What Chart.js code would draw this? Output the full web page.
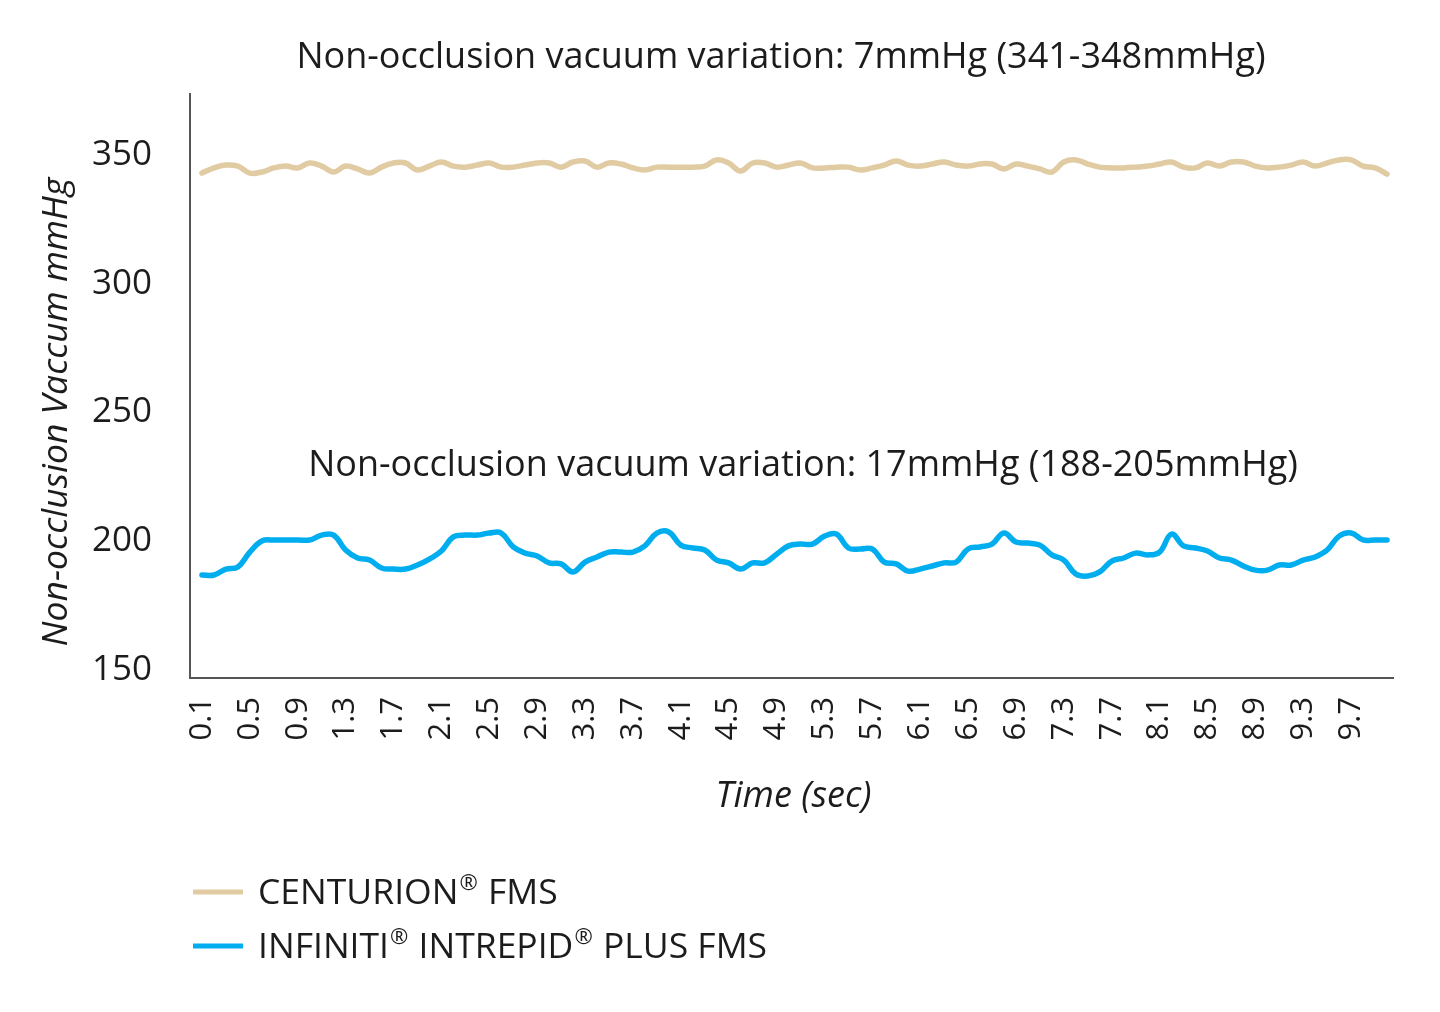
<!DOCTYPE html>
<html>
<head>
<meta charset="utf-8">
<script src="https://cdn.jsdelivr.net/npm/chart.js@4.4.1/dist/chart.umd.min.js"></script>
<style>
html,body{margin:0;padding:0;background:#ffffff;}
#wrap{width:1440px;height:1012px;position:relative;}
canvas{display:block;}
</style>
</head>
<body>
<div id="wrap"><canvas id="c" width="1440" height="1012"></canvas></div>
<script>
// ---- data ----
const timeSec = [0.1,0.2,0.3,0.4,0.5,0.6,0.7,0.8,0.9,1.0,
  1.1,1.2,1.3,1.4,1.5,1.6,1.7,1.8,1.9,2.0,
  2.1,2.2,2.3,2.4,2.5,2.6,2.7,2.8,2.9,3.0,
  3.1,3.2,3.3,3.4,3.5,3.6,3.7,3.8,3.9,4.0,
  4.1,4.2,4.3,4.4,4.5,4.6,4.7,4.8,4.9,5.0,
  5.1,5.2,5.3,5.4,5.5,5.6,5.7,5.8,5.9,6.0,
  6.1,6.2,6.3,6.4,6.5,6.6,6.7,6.8,6.9,7.0,
  7.1,7.2,7.3,7.4,7.5,7.6,7.7,7.8,7.9,8.0,
  8.1,8.2,8.3,8.4,8.5,8.6,8.7,8.8,8.9,9.0,
  9.1,9.2,9.3,9.4,9.5,9.6,9.7,9.8,9.9,10.0];

const centurionFMS = [343.0,345.0,346.1,345.7,343.0,343.4,345.0,345.7,345.0,346.9,
  345.7,343.4,345.7,344.6,343.0,345.3,346.9,346.9,344.2,345.7,
  347.3,345.7,345.3,346.1,346.9,345.3,345.3,346.1,346.9,346.9,
  345.3,347.3,347.7,345.3,346.9,346.5,345.0,344.2,345.3,345.3,
  345.3,345.3,345.7,348.1,346.9,343.8,346.9,346.9,345.3,346.1,
  346.9,345.0,345.0,345.3,345.3,344.2,345.0,346.1,347.7,346.1,
  345.7,346.5,347.3,346.1,345.7,346.5,346.5,344.6,346.5,345.7,
  344.6,343.4,347.3,348.1,346.5,345.3,345.0,345.0,345.3,345.7,
  346.5,347.3,345.3,345.0,346.9,345.7,347.3,347.3,345.7,345.0,
  345.3,346.1,347.3,345.7,346.9,348.1,348.1,345.7,345.0,342.6];

const intrepidPlusFMS = [186.9,186.9,189.2,190.0,195.8,200.1,200.5,200.5,200.5,200.5,
  202.4,202.4,196.6,193.5,192.7,189.6,189.2,189.2,190.8,193.1,
  196.2,201.7,202.4,202.4,203.2,203.2,197.8,195.4,194.3,191.6,
  191.2,188.1,191.9,193.9,195.8,195.8,195.8,198.2,203.2,203.6,
  198.5,197.4,196.6,192.7,191.6,189.2,191.6,191.6,195.0,198.2,
  198.9,198.9,202.0,202.8,197.4,197.0,197.0,191.9,191.2,188.4,
  189.2,190.4,191.6,191.9,197.0,197.8,198.9,203.2,199.7,199.3,
  198.5,194.7,192.7,187.3,186.5,188.1,192.3,193.5,195.4,194.7,
  195.8,202.8,198.2,197.4,196.2,193.5,192.7,190.4,188.8,188.8,
  190.8,190.8,192.7,193.9,196.6,202.0,203.2,200.5,200.5,200.5];

const xTickLabels = [0.1,0.5,0.9,1.3,1.7,2.1,2.5,2.9,3.3,3.7,4.1,4.5,4.9,5.3,5.7,6.1,6.5,6.9,7.3,7.7,8.1,8.5,8.9,9.3,9.7];
const yTickLabels = [150,200,250,300,350];

const seriesNames = ['CENTURION® FMS','INFINITI® INTREPID® PLUS FMS'];
const seriesColors = ['#e0cba3','#00aeef'];
const chartTitle = 'Non-occlusion vacuum variation: 7mmHg (341-348mmHg)';
const lowerNote = 'Non-occlusion vacuum variation: 17mmHg (188-205mmHg)';
const yTitle = 'Non-occlusion Vaccum mmHg';
const xTitle = 'Time (sec)';

// ---- text / legend plugin ----
const FONT = "'Open Sans', 'Noto Sans', sans-serif";
const TEXT = '#1c1c1c';

function drawRuns(ctx, x, y, text, size){
  // draws text, rendering ® as a small raised mark
  const parts = text.split('®');
  let cx = x;
  parts.forEach((p, i) => {
    ctx.font = size + 'px ' + FONT;
    ctx.fillText(p, cx, y);
    cx += ctx.measureText(p).width;
    if (i < parts.length - 1) {
      ctx.font = Math.round(size*0.62) + 'px ' + FONT;
      ctx.fillText('®', cx + 1, y - size*0.3);
      cx += ctx.measureText('®').width + 2;
    }
  });
}

const textPlugin = {
  id: 'textPlugin',
  afterDraw(chart){
    const ctx = chart.ctx;
    const area = chart.chartArea;
    ctx.save();
    ctx.fillStyle = TEXT;
    ctx.textBaseline = 'middle';
    ctx.textAlign = 'center';
    ctx.font = '36px ' + FONT;
    ctx.fillText(chartTitle, area.left + 591, 58);
    ctx.fillText(lowerNote, area.left + 613, 466);

    ctx.font = 'italic 36px ' + FONT;
    ctx.fillText(xTitle, (area.left + area.right)/2 + 2, 797);

    ctx.save();
    ctx.font = 'italic 35.5px ' + FONT;
    ctx.translate(57, 412);
    ctx.rotate(-Math.PI/2);
    ctx.fillText(yTitle, 0, 0);
    ctx.restore();

    // legend
    ctx.textAlign = 'left';
    const rows = [893, 947];
    chart.data.datasets.forEach((ds, i) => {
      const y = rows[i];
      ctx.strokeStyle = ds.borderColor;
      ctx.lineWidth = 5;
      ctx.beginPath();
      ctx.moveTo(193, y - 1);
      ctx.lineTo(243, y - 1);
      ctx.stroke();
      ctx.fillStyle = TEXT;
      drawRuns(ctx, 258, y + 1, ds.label, 35.5);
    });
    ctx.restore();
  }
};

function build(){
  const ctx = document.getElementById('c').getContext('2d');
  new Chart(ctx, {
    type: 'line',
    data: {
      datasets: [
        {
          label: seriesNames[0],
          data: timeSec.map((t, i) => ({x: t, y: centurionFMS[i]})),
          borderColor: seriesColors[0],
          borderWidth: 5.5,
          pointRadius: 0,
          tension: 0.4,
          fill: false,
          borderCapStyle: 'round',
          borderJoinStyle: 'round'
        },
        {
          label: seriesNames[1],
          data: timeSec.map((t, i) => ({x: t, y: intrepidPlusFMS[i]})),
          borderColor: seriesColors[1],
          borderWidth: 5.5,
          pointRadius: 0,
          tension: 0.4,
          fill: false,
          borderCapStyle: 'round',
          borderJoinStyle: 'round'
        }
      ]
    },
    options: {
      responsive: false,
      animation: false,
      devicePixelRatio: 1,
      layout: {padding: {top: 94, right: 47, left: 0, bottom: 0}},
      plugins: {
        legend: {display: false},
        title: {display: false},
        tooltip: {enabled: false}
      },
      scales: {
        x: {
          type: 'linear',
          min: 0,
          max: 10.05,
          afterBuildTicks(s){ s.ticks = xTickLabels.map(v => ({value: v})); },
          afterFit(s){ s.height = 334; },
          ticks: {
            autoSkip: false,
            minRotation: 90,
            maxRotation: 90,
            padding: 19,
            color: TEXT,
            font: {family: FONT, size: 31},
            callback: v => Number(v).toFixed(1)
          },
          grid: {display: false, drawTicks: false},
          border: {display: true, color: '#555555', width: 2}
        },
        y: {
          type: 'linear',
          min: 146.9,
          max: 373.7,
          afterBuildTicks(s){ s.ticks = yTickLabels.map(v => ({value: v})); },
          afterFit(s){ s.width = 190; },
          ticks: {
            padding: 38,
            color: TEXT,
            font: {family: FONT, size: 35},
            callback: v => String(v)
          },
          grid: {display: false, drawTicks: false},
          border: {display: true, color: '#555555', width: 2}
        }
      }
    },
    plugins: [textPlugin]
  });
}

if (document.fonts && document.fonts.load) {
  Promise.all([
    document.fonts.load("36px 'Open Sans'"),
    document.fonts.load("italic 34px 'Open Sans'")
  ]).then(build, build);
} else {
  build();
}
</script>
</body>
</html>
